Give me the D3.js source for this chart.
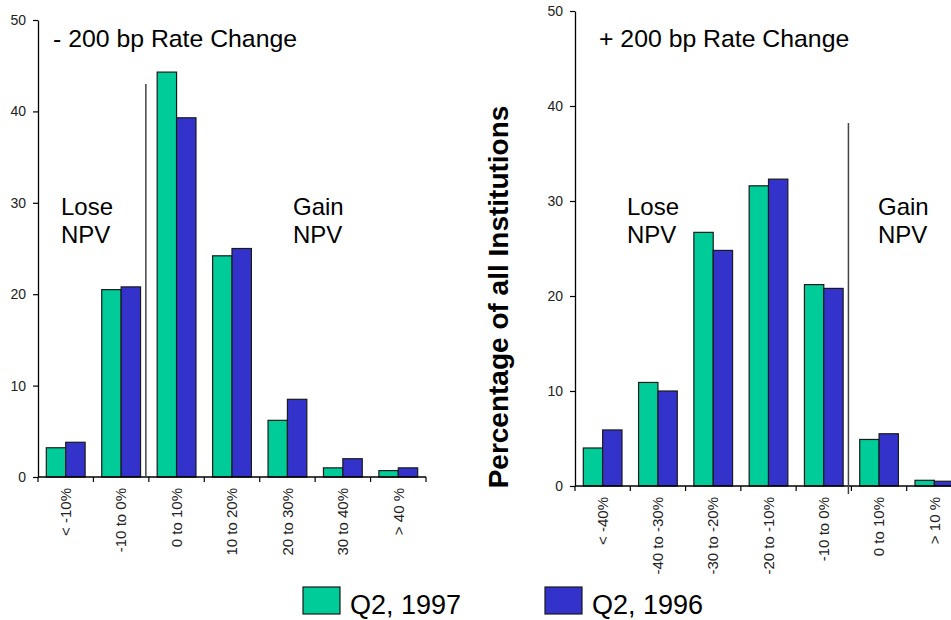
<!DOCTYPE html>
<html>
<head>
<meta charset="utf-8">
<script src="https://cdn.jsdelivr.net/npm/d3@7/dist/d3.min.js"></script>
<style>
  html, body { margin: 0; padding: 0; background: #fff; overflow: hidden; }
  svg { display: block; font-family: "Liberation Sans", Arial, sans-serif; }
</style>
</head>
<body>
<svg id="chart" width="951" height="620"></svg>
<script>
// Distribution of NPV change under a -200 bp and a +200 bp rate shock
const downCategories = ["< -10%", "-10 to 0%", "0 to 10%", "10 to 20%", "20 to 30%", "30 to 40%", "> 40 %"];
const downQ2_1997 = [3.2, 20.5, 44.3, 24.2, 6.2, 1.0, 0.7];
const downQ2_1996 = [3.8, 20.8, 39.3, 25.0, 8.5, 2.0, 1.0];

const upCategories = ["< -40%", "-40 to -30%", "-30 to -20%", "-20 to -10%", "-10 to 0%", "0 to 10%", "> 10 %"];
const upQ2_1997 = [4.0, 10.9, 26.7, 31.6, 21.2, 4.9, 0.6];
const upQ2_1996 = [5.9, 10.0, 24.8, 32.3, 20.8, 5.5, 0.5];

const seriesNames = ["Q2, 1997", "Q2, 1996"];
const seriesColors = ["#00CC99", "#3333CC"];
const yTicks = [0, 10, 20, 30, 40, 50];

// divider between losers and gainers: category index it precedes, and its height
const downDivider = { before: 2, top: 43 };
const upDivider = { before: 5, top: 38.2 };

const FONT = "'Liberation Sans', Arial, sans-serif";
const svg = d3.select("#chart");

function drawPanel(opts) {
  const { cats, s1, s2, xRange, yRange, divider, title, titleX, loseX, gainX } = opts;
  const g = svg.append("g");

  const y = d3.scaleLinear().domain([0, 50]).range(yRange);
  const x0 = d3.scaleBand().domain(cats).range(xRange).paddingInner(0.3).paddingOuter(0.15);
  const x1 = d3.scaleBand().domain([0, 1]).range([0, x0.bandwidth()]);
  const step = x0.step();
  const left = xRange[0];
  const base = y(0);

  const rows = cats.map((c, i) => ({ cat: c, vals: [s1[i], s2[i]] }));

  // bars
  const groups = g.selectAll("g.cat").data(rows).join("g")
    .attr("class", "cat")
    .attr("transform", d => `translate(${x0(d.cat)},0)`);
  groups.selectAll("rect").data(d => d.vals.map((v, k) => ({ v, k }))).join("rect")
    .attr("x", d => x1(d.k))
    .attr("y", d => y(d.v))
    .attr("width", x1.bandwidth())
    .attr("height", d => base - y(d.v))
    .attr("fill", d => seriesColors[d.k])
    .attr("stroke", "#1a1a1a")
    .attr("stroke-width", 1.2);

  // y axis
  const yAxis = g.append("g")
    .attr("transform", `translate(${left},0)`)
    .call(d3.axisLeft(y).tickValues(yTicks).tickSize(5).tickSizeOuter(0).tickPadding(7));
  yAxis.select(".domain").attr("stroke", "#000").attr("stroke-width", 1.3);
  yAxis.selectAll(".tick line").attr("stroke", "#000").attr("stroke-width", 1.2);
  yAxis.selectAll(".tick text").attr("font-size", 14).attr("fill", "#222")
    .attr("font-family", FONT);

  // x axis: rotated category labels
  const xAxis = g.append("g")
    .attr("transform", `translate(0,${base})`)
    .call(d3.axisBottom(x0).tickSize(0).tickSizeOuter(0));
  xAxis.select(".domain").remove();
  xAxis.selectAll(".tick text")
    .attr("font-size", 15).attr("fill", "#222")
    .attr("font-family", FONT)
    .attr("y", 0).attr("x", -11).attr("dy", "0.35em")
    .attr("transform", "rotate(-90)")
    .style("text-anchor", "end");

  // axis baseline and boundary ticks between categories
  g.append("line")
    .attr("x1", left).attr("x2", left + step * cats.length)
    .attr("y1", base).attr("y2", base)
    .attr("stroke", "#000").attr("stroke-width", 1.3);
  g.selectAll("line.bt").data(d3.range(cats.length + 1)).join("line")
    .attr("class", "bt")
    .attr("x1", i => left + i * step).attr("x2", i => left + i * step)
    .attr("y1", base).attr("y2", base + 5)
    .attr("stroke", "#000").attr("stroke-width", 1.2);

  // loss / gain divider
  const dx = left + divider.before * step - 3;
  g.append("line")
    .attr("x1", dx).attr("x2", dx)
    .attr("y1", y(divider.top)).attr("y2", base + opts.dividerBelow)
    .attr("stroke", "#444").attr("stroke-width", 1.5);

  // annotations
  g.append("text").attr("x", titleX).attr("y", 47)
    .attr("font-size", 24.8).attr("fill", "#000").text(title);
  const lose = g.append("text").attr("x", loseX).attr("y", 215).attr("font-size", 24).attr("fill", "#000");
  lose.append("tspan").attr("x", loseX).text("Lose");
  lose.append("tspan").attr("x", loseX).attr("dy", 28).text("NPV");
  const gain = g.append("text").attr("x", gainX).attr("y", 215).attr("font-size", 24).attr("fill", "#000");
  gain.append("tspan").attr("x", gainX).text("Gain");
  gain.append("tspan").attr("x", gainX).attr("dy", 28).text("NPV");
}

drawPanel({
  cats: downCategories, s1: downQ2_1997, s2: downQ2_1996,
  xRange: [38, 426], yRange: [477, 20], divider: downDivider, dividerBelow: 0,
  title: "- 200 bp Rate Change", titleX: 53, loseX: 61, gainX: 293
});

drawPanel({
  cats: upCategories, s1: upQ2_1997, s2: upQ2_1996,
  xRange: [575, 962], yRange: [486, 11], divider: upDivider, dividerBelow: 8,
  title: "+ 200 bp Rate Change", titleX: 599, loseX: 627, gainX: 878
});

// shared y-axis title
svg.append("text")
  .attr("transform", "translate(508,297) rotate(-90)")
  .attr("text-anchor", "middle")
  .attr("font-size", 28).attr("font-weight", "bold").attr("fill", "#000")
  .text("Percentage of all Institutions");

// legend
const legendX = [303, 545];
const legend = svg.selectAll("g.legend").data(seriesNames).join("g")
  .attr("class", "legend")
  .attr("transform", (d, i) => `translate(${legendX[i]},587)`);
legend.append("rect")
  .attr("width", 37).attr("height", 27)
  .attr("fill", (d, i) => seriesColors[i])
  .attr("stroke", "#1a1a1a").attr("stroke-width", 1.2);
legend.append("text")
  .attr("x", 47).attr("y", 27)
  .attr("font-size", 27).attr("fill", "#000")
  .text(d => d);
</script>
</body>
</html>
